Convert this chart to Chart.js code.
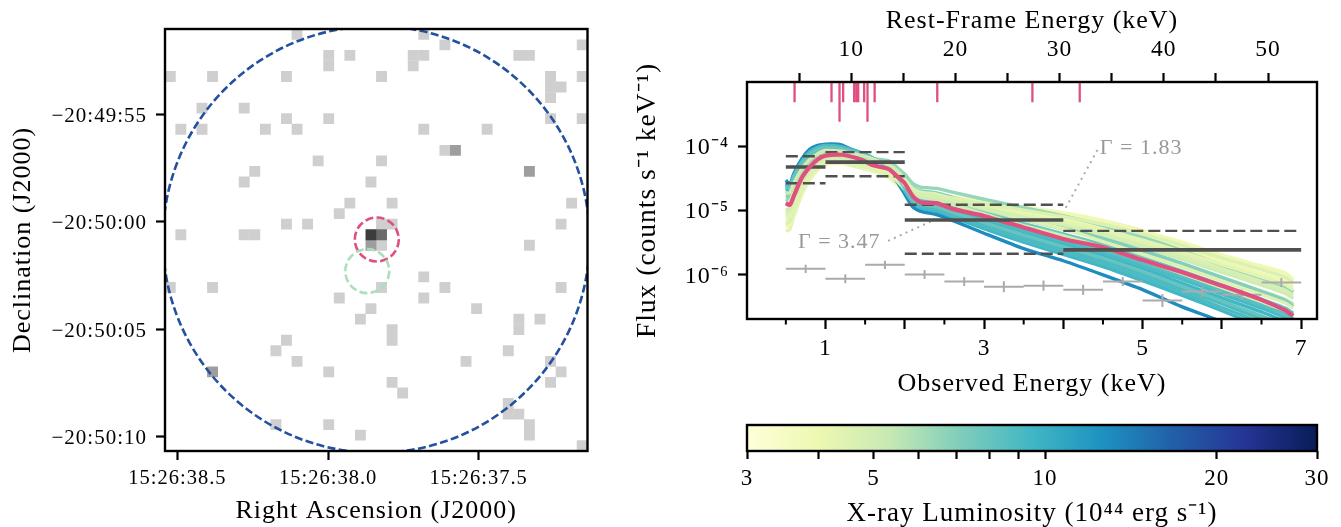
<!DOCTYPE html>
<html>
<head>
<meta charset="utf-8">
<style>
  body { margin: 0; background: #fff; width: 1341px; height: 527px; overflow: hidden; position: relative; }
  canvas { position: absolute; display: block; }
</style>
<script src="https://cdn.jsdelivr.net/npm/chart.js@4/dist/chart.umd.min.js"></script>
</head>
<body>
<canvas id="image" width="600" height="527" style="left:0;top:0"></canvas>
<canvas id="spectrum" width="741" height="400" style="left:600px;top:0"></canvas>
<canvas id="colorbar" width="741" height="130" style="left:600px;top:400px"></canvas>
<script>
// ---- left panel: counts image, cells are [column, row]
var cellsOne = [[12,0],[24,0],[26,1],[39,1],[15,2],[17,2],[23,2],[24,2],[33,2],[34,2],[15,3],[23,3],
  [0,4],[4,4],[11,4],[20,4],[36,4],[39,4],[36,5],[37,5],[36,6],[3,7],[7,7],[11,8],[15,8],[36,8],[39,8],
  [1,9],[3,9],[9,9],[12,9],[24,9],[30,9],[26,11],[14,12],[20,12],[8,13],[7,14],[19,14],[17,16],[21,16],[38,16],
  [16,17],[11,18],[13,18],[20,18],[21,18],[37,18],[1,19],[7,19],[8,19],[20,20],[34,20],
  [24,23],[0,24],[4,24],[20,24],[26,24],[37,24],[16,25],[24,25],[19,26],[29,26],[18,27],[33,27],[35,27],
  [21,28],[33,28],[11,29],[21,29],[10,30],[32,30],[12,31],[28,31],[36,31],[15,32],[37,32],[21,33],[36,33],
  [22,34],[32,35],[32,36],[33,36],[10,37],[15,37],[34,37],[18,38],[34,38],[39,39]];
var cellsTwo = [[27,11],[34,13],[19,20],[4,32]];
var cellsThree = [[20,19]];
var cellsFour = [[19,19]];
var cellGreys = ['#cfcfcf', '#9e9e9e', '#6b6b6b', '#3c3c3c'];

var regionCol = [20.0, 20.05, 19.15];
var regionRow = [19.95, 19.95, 22.95];
var regionRad = [20.2, 2.08, 2.08];
var regionColors = ['#23509f', '#e0507f', '#a9e0b8'];

var raTickPos = [1.18, 15.45, 29.7];
var raTickLabels = ['15:26:38.5', '15:26:38.0', '15:26:37.5'];
var decTickPos = [8.15, 18.29, 28.46, 38.64];
var decTickLabels = ['−20:49:55', '−20:50:00', '−20:50:05', '−20:50:10'];

// ---- right panel: spectrum, fluxes are log10(counts/s/keV)
var modelEnergy = [0.5,0.55,0.6,0.7,0.8,0.9,1,1.2,1.4,1.5,1.6,1.8,1.9,2,2.1,2.2,2.4,2.6,3,3.5,4,4.5,5,5.5,6,6.5,6.8,6.9];
var bestFit = [-4.89,-4.92,-4.78,-4.50,-4.33,-4.21,-4.15,-4.135,-4.19,-4.24,-4.30,-4.36,-4.47,-4.58,-4.78,-4.88,-4.89,-4.98,-5.09,-5.27,-5.45,-5.58,-5.78,-5.97,-6.18,-6.40,-6.565,-6.65];
var modelLum = [4.3, 8.5, 3.9, 9, 4.0, 9.5, 4.5, 9.5, 5.0, 7.8, 5.6, 13, 7.0, 6.5, 9, 4.6, 9, 4.3, 4.5, 8, 4.8, 5];
var model1 = [-5.33,-5.30,-5.10,-4.76,-4.53,-4.37,-4.28,-4.27,-4.33,-4.36,-4.39,-4.49,-4.59,-4.72,-4.76,-4.78,-4.78,-4.82,-4.90,-4.98,-5.06,-5.17,-5.32,-5.52,-5.72,-5.88,-5.99,-6.09];
var model2 = [-4.70,-4.71,-4.55,-4.34,-4.19,-4.10,-4.06,-4.07,-4.12,-4.15,-4.19,-4.31,-4.42,-4.60,-4.76,-4.82,-4.86,-4.94,-5.09,-5.28,-5.44,-5.62,-5.82,-6.03,-6.26,-6.48,-6.62,-6.70];
var model3 = [-5.26,-5.22,-5.03,-4.71,-4.49,-4.34,-4.26,-4.26,-4.31,-4.34,-4.37,-4.46,-4.56,-4.69,-4.74,-4.72,-4.74,-4.79,-4.87,-4.95,-5.04,-5.16,-5.33,-5.50,-5.70,-5.87,-5.98,-6.08];
var model4 = [-4.61,-4.65,-4.47,-4.26,-4.11,-4.04,-4.01,-4.03,-4.10,-4.13,-4.19,-4.36,-4.48,-4.68,-4.86,-4.92,-4.97,-5.05,-5.22,-5.43,-5.61,-5.79,-6.00,-6.23,-6.46,-6.70,-6.85,-6.92];
var model5 = [-5.18,-5.14,-4.96,-4.66,-4.45,-4.31,-4.24,-4.24,-4.29,-4.32,-4.35,-4.43,-4.52,-4.66,-4.72,-4.76,-4.78,-4.84,-4.93,-5.04,-5.14,-5.27,-5.42,-5.60,-5.80,-5.99,-6.11,-6.19];
var model6 = [-4.65,-4.68,-4.50,-4.30,-4.15,-4.07,-4.03,-4.05,-4.10,-4.14,-4.19,-4.33,-4.45,-4.65,-4.82,-4.88,-4.92,-5.00,-5.16,-5.36,-5.53,-5.71,-5.91,-6.14,-6.37,-6.59,-6.74,-6.82];
var model7 = [-5.09,-5.05,-4.89,-4.61,-4.41,-4.28,-4.21,-4.22,-4.27,-4.30,-4.33,-4.40,-4.49,-4.64,-4.74,-4.78,-4.80,-4.87,-4.98,-5.10,-5.21,-5.35,-5.52,-5.69,-5.90,-6.09,-6.21,-6.28];
var model8 = [-4.57,-4.62,-4.45,-4.23,-4.08,-4.01,-3.98,-4.00,-4.08,-4.13,-4.20,-4.38,-4.52,-4.71,-4.90,-4.97,-5.02,-5.11,-5.29,-5.50,-5.69,-5.88,-6.10,-6.33,-6.57,-6.82,-6.97,-7.05];
var model9 = [-5.00,-4.97,-4.82,-4.56,-4.37,-4.25,-4.19,-4.20,-4.25,-4.28,-4.30,-4.36,-4.44,-4.58,-4.70,-4.72,-4.76,-4.83,-4.96,-5.12,-5.25,-5.40,-5.58,-5.77,-5.97,-6.17,-6.30,-6.38];
var model10 = [-4.75,-4.74,-4.60,-4.38,-4.23,-4.13,-4.08,-4.09,-4.15,-4.18,-4.21,-4.30,-4.41,-4.56,-4.72,-4.78,-4.82,-4.89,-5.03,-5.21,-5.37,-5.54,-5.74,-5.95,-6.17,-6.39,-6.53,-6.61];
var model11 = [-4.93,-4.90,-4.76,-4.51,-4.33,-4.22,-4.16,-4.17,-4.22,-4.25,-4.27,-4.32,-4.40,-4.54,-4.68,-4.74,-4.78,-4.86,-4.99,-5.15,-5.30,-5.46,-5.64,-5.84,-6.05,-6.26,-6.39,-6.47];
var model12 = [-4.53,-4.60,-4.43,-4.20,-4.05,-3.99,-3.97,-3.98,-4.10,-4.15,-4.21,-4.40,-4.55,-4.75,-4.95,-5.02,-5.07,-5.16,-5.36,-5.60,-5.79,-6.01,-6.24,-6.51,-6.74,-7.00,-7.15,-7.20];
var model13 = [-4.80,-4.78,-4.65,-4.42,-4.26,-4.16,-4.11,-4.12,-4.16,-4.19,-4.22,-4.28,-4.37,-4.50,-4.64,-4.70,-4.73,-4.80,-4.94,-5.12,-5.27,-5.44,-5.63,-5.83,-6.05,-6.27,-6.41,-6.50];
var model14 = [-4.86,-4.83,-4.70,-4.46,-4.29,-4.18,-4.13,-4.14,-4.17,-4.20,-4.20,-4.23,-4.33,-4.44,-4.58,-4.64,-4.66,-4.72,-4.83,-4.96,-5.09,-5.24,-5.42,-5.63,-5.86,-6.06,-6.20,-6.28];
var model15 = [-4.59,-4.63,-4.46,-4.24,-4.09,-4.02,-3.99,-4.01,-4.09,-4.13,-4.19,-4.37,-4.50,-4.70,-4.88,-4.95,-5.00,-5.08,-5.25,-5.47,-5.65,-5.84,-6.05,-6.28,-6.52,-6.76,-6.91,-6.99];
var model16 = [-5.22,-5.18,-5.00,-4.69,-4.47,-4.33,-4.25,-4.25,-4.30,-4.33,-4.36,-4.45,-4.54,-4.67,-4.73,-4.74,-4.76,-4.81,-4.90,-5.00,-5.10,-5.22,-5.37,-5.55,-5.75,-5.93,-6.05,-6.13];
var model17 = [-4.67,-4.69,-4.52,-4.32,-4.17,-4.08,-4.05,-4.06,-4.11,-4.14,-4.19,-4.32,-4.44,-4.62,-4.79,-4.85,-4.89,-4.97,-5.12,-5.32,-5.49,-5.67,-5.87,-6.08,-6.31,-6.53,-6.68,-6.76];
var model18 = [-5.13,-5.10,-4.92,-4.63,-4.43,-4.30,-4.23,-4.23,-4.28,-4.31,-4.34,-4.42,-4.50,-4.65,-4.73,-4.77,-4.79,-4.85,-4.95,-5.07,-5.18,-5.31,-5.47,-5.65,-5.85,-6.04,-6.16,-6.24];
var model19 = [-4.90,-4.87,-4.73,-4.48,-4.31,-4.20,-4.14,-4.15,-4.20,-4.23,-4.25,-4.30,-4.38,-4.52,-4.66,-4.72,-4.75,-4.83,-4.97,-5.14,-5.29,-5.49,-5.69,-5.89,-6.11,-6.32,-6.45,-6.53];
var model20 = [-4.63,-4.66,-4.48,-4.28,-4.13,-4.05,-4.02,-4.04,-4.10,-4.13,-4.19,-4.34,-4.46,-4.66,-4.84,-4.90,-4.95,-5.03,-5.19,-5.39,-5.57,-5.75,-5.96,-6.19,-6.42,-6.65,-6.79,-6.87];
var model21 = [-5.04,-5.01,-4.85,-4.58,-4.39,-4.26,-4.20,-4.21,-4.26,-4.29,-4.31,-4.38,-4.46,-4.61,-4.72,-4.75,-4.78,-4.85,-4.97,-5.11,-5.23,-5.38,-5.55,-5.73,-5.93,-6.13,-6.25,-6.33];
var model22 = [-4.73,-4.73,-4.58,-4.36,-4.21,-4.12,-4.07,-4.08,-4.13,-4.16,-4.20,-4.30,-4.41,-4.58,-4.74,-4.80,-4.84,-4.91,-5.06,-5.24,-5.40,-5.58,-5.78,-5.99,-6.21,-6.43,-6.57,-6.65];
var models = [model1,model2,model3,model4,model5,model6,model7,model8,model9,model10,model11,model12,model13,model14,
  model15,model16,model17,model18,model19,model20,model21,model22];

var binLow = [0.5, 1, 2, 4];
var binHigh = [1, 2, 4, 7];
var binFlux = [-4.327, -4.25, -5.153, -5.62];
var binUpper = [-4.16, -4.095, -4.915, -5.324];
var binLower = [-4.58, -4.47, -5.68, null];

var bgEnergy = [0.75,1.25,1.75,2.25,2.75,3.25,3.75,4.25,4.75,5.25,5.75,6.25,6.75];
var bgFlux = [-5.916,-6.07,-5.854,-6.004,-6.113,-6.196,-6.18,-6.243,-6.113,-6.41,-6.27,-6.32,-6.13];
var bgFluxErr = [0.065,0.07,0.065,0.07,0.07,0.085,0.08,0.08,0.07,0.1,0.08,0.08,0.07];

var rugEnergy = [0.61,1.076,1.177,1.223,1.362,1.392,1.413,1.488,1.53,1.62,2.41,3.61,4.207];
var rugEnd = [-3.315,-3.315,-3.62,-3.315,-3.315,-3.315,-3.315,-3.315,-3.62,-3.315,-3.315,-3.315,-3.315];

var noteText = ['Γ = 1.83', 'Γ = 3.47'];
var noteEnergy = [4.46, 0.653];
var noteFlux = [-4.03, -5.495];
var pointerEnergy = [[4.43, 3.997], [1.79, 2.34]];
var pointerFlux = [[-4.06, -5.04], [-5.48, -5.17]];

var obsTicks = [1, 2, 3, 4, 5, 6, 7];
var obsMinorTicks = [0.5, 1.5, 2.5, 3.5, 4.5, 5.5, 6.5];
var restTicks = [5, 10, 15, 20, 25, 30, 35, 40, 45, 50];
var fluxTicks = [-6, -5, -4];
var fluxTickLabels = ['10⁻⁶', '10⁻⁵', '10⁻⁴'];

// ---- colour bar
var lumTicks = [3, 4, 5, 6, 7, 8, 9, 10, 20, 30];
var lumLabelled = [3, 5, 10, 20, 30];
var ylGnBu = ['#ffffd9', '#edf8b1', '#c7e9b4', '#7fcdbb', '#41b6c4', '#1d91c0', '#225ea8', '#253494', '#081d58'];

var SERIF = '"Liberation Serif", serif';
var PINK = '#e0507f';
var DARK = '#505050';
Chart.defaults.font.family = SERIF;
Chart.defaults.color = '#000';
Chart.defaults.animation = false;
Chart.defaults.events = [];
Chart.defaults.plugins.legend.display = false;
Chart.defaults.plugins.tooltip.enabled = false;

function lumColor(l) {
  var t = Math.log(l / 3) / Math.log(10) * 8;
  var i = Math.min(7, Math.floor(t));
  var f = t - i;
  var a = parseInt(ylGnBu[i].slice(1), 16), b = parseInt(ylGnBu[i + 1].slice(1), 16);
  var mix = function (s) { return Math.round((a >> s & 255) * (1 - f) + (b >> s & 255) * f); };
  return 'rgb(' + mix(16) + ',' + mix(8) + ',' + mix(0) + ')';
}
function pow(v) { return Math.pow(10, v); }
function fixedTicks(values) {
  return function (axis) { axis.ticks = values.map(function (v) { return { value: v }; }); };
}
function fitHeight(h) { return function (s) { s.height = h; }; }
function fitWidth(w) { return function (s) { s.width = w; }; }
function gridOpts(len) {
  return { drawOnChartArea: false, tickLength: len, tickWidth: 2.2, tickColor: '#000' };
}
function titleOpts(text, pad, size) {
  return { display: true, text: text, padding: { top: pad, bottom: 0 }, font: { size: size || 26 } };
}

// black box round the axes, and a bit of tracking since the serif runs narrower than the original
var framePlugin = {
  id: 'frame',
  beforeDraw: function (chart) { chart.ctx.letterSpacing = '1px'; },
  afterDraw: function (chart) {
    var a = chart.chartArea, ctx = chart.ctx;
    ctx.save();
    ctx.lineWidth = 2.4;
    ctx.strokeStyle = '#000';
    ctx.strokeRect(a.left, a.top, a.right - a.left, a.bottom - a.top);
    ctx.restore();
  }
};

// ---- left panel
function cellData(list) {
  return list.map(function (c) { return { x: c[0] + 0.5, y: c[1] + 0.5 }; });
}
function cellRadius(ctx) { return ctx.chart.scales.x.width / 40 * Math.SQRT2 / 2 * 1.03; }
var imageSets = [cellsOne, cellsTwo, cellsThree, cellsFour].map(function (list, i) {
  return { data: cellData(list), pointStyle: 'rect', pointRadius: cellRadius,
    backgroundColor: cellGreys[i], borderWidth: 0, pointBorderWidth: 0 };
});
regionCol.forEach(function (c, i) {
  imageSets.push({
    data: [{ x: c, y: regionRow[i] }], circleDash: [8, 3.4], pointStyle: 'circle',
    pointRadius: function (ctx) { return regionRad[i] * ctx.chart.scales.x.width / 40; },
    pointBorderColor: regionColors[i], pointBorderWidth: 2.6, pointBackgroundColor: 'rgba(0,0,0,0)'
  });
});
var dashPlugin = {
  id: 'circleDash',
  beforeDatasetDraw: function (chart, args) {
    var ds = chart.data.datasets[args.index];
    chart.ctx.setLineDash(ds.circleDash || []);
  },
  afterDatasetDraw: function (chart) { chart.ctx.setLineDash([]); }
};
new Chart(document.getElementById('image'), {
  type: 'scatter',
  data: { datasets: imageSets.reverse() },
  plugins: [framePlugin, dashPlugin],
  options: {
    responsive: false,
    layout: { padding: { top: 29, right: 12.5, left: 0, bottom: 0 } },
    scales: {
      x: {
        type: 'linear', min: 0, max: 40, border: { display: false }, grid: gridOpts(9),
        afterBuildTicks: fixedTicks(raTickPos), afterFit: fitHeight(76),
        title: titleOpts('Right Ascension (J2000)', 0.4),
        ticks: { maxRotation: 0, autoSkip: false, padding: 6, font: { size: 20.5 },
          callback: function (v, i) { return raTickLabels[i]; } }
      },
      y: {
        type: 'linear', min: 0, max: 40, reverse: true, border: { display: false }, grid: gridOpts(9),
        afterBuildTicks: fixedTicks(decTickPos), afterFit: fitWidth(165),
        title: titleOpts('Declination (J2000)', 7.4),
        ticks: { autoSkip: false, padding: 9, labelOffset: 2, font: { size: 21 },
          callback: function (v, i) { return decTickLabels[i]; } }
      }
    }
  }
});

// ---- right panel
function curve(vals) {
  return modelEnergy.map(function (e, i) { return { x: e, y: pow(vals[i]) }; });
}
function lineSet(data, color, width, dash) {
  return { data: data, showLine: true, pointRadius: 0, borderColor: color, borderWidth: width,
    borderDash: dash || [], backgroundColor: color, borderCapStyle: 'butt' };
}
function binSegments(levels, from, to) {
  var out = [];
  levels.slice(from, to).forEach(function (v, k) {
    var i = (from || 0) + k;
    if (v === null) return;
    out.push({ x: binLow[i], y: pow(v) }, { x: binHigh[i], y: pow(v) }, { x: NaN, y: NaN });
  });
  return out;
}
var crossData = [];
bgEnergy.forEach(function (e, i) {
  crossData.push({ x: e - 0.25, y: pow(bgFlux[i]) }, { x: e + 0.25, y: pow(bgFlux[i]) }, { x: NaN, y: NaN });
  crossData.push({ x: e, y: pow(bgFlux[i] - bgFluxErr[i]) }, { x: e, y: pow(bgFlux[i] + bgFluxErr[i]) }, { x: NaN, y: NaN });
});
var rugData = [];
rugEnergy.forEach(function (e, i) {
  rugData.push({ x: e, y: 1e-3 }, { x: e, y: pow(rugEnd[i]) }, { x: NaN, y: NaN });
});

// listed in paint order, reversed below because Chart.js paints the first dataset last
var specSets = [];
pointerEnergy.forEach(function (es, k) {
  specSets.push(lineSet(es.map(function (e, i) { return { x: e, y: pow(pointerFlux[k][i]) }; }), '#aaaaaa', 2, [2, 4.4]));
});
models.forEach(function (m, i) {
  var s = lineSet(curve(m), lumColor(modelLum[i]), 3.4);
  s.tension = 0.2;
  specSets.push(s);
});
specSets.push(lineSet(crossData, '#ababab', 2));
specSets.push(lineSet(binSegments(binUpper), DARK, 2.4, [12, 5]));
specSets.push(lineSet(binSegments(binLower), DARK, 2.4, [12, 5]));
specSets.push(lineSet(binSegments(binFlux, 0, 1), DARK, 3.6));
var fitSet = lineSet(curve(bestFit), PINK, 4.2);
fitSet.tension = 0.2;
specSets.push(fitSet);
specSets.push(lineSet(binSegments(binFlux, 1), DARK, 3.6));
specSets.push(lineSet(rugData, PINK, 2.3));

var specPlugin = {
  id: 'specExtras',
  afterDatasetsDraw: function (chart) {
    var ctx = chart.ctx, x = chart.scales.x, y = chart.scales.y;
    ctx.save();
    ctx.strokeStyle = '#000';
    ctx.lineWidth = 2;
    ctx.beginPath();
    obsMinorTicks.forEach(function (t) {
      var px = x.getPixelForValue(t);
      ctx.moveTo(px, y.bottom);
      ctx.lineTo(px, y.bottom + 5.5);
    });
    ctx.stroke();
    ctx.fillStyle = '#999999';
    ctx.font = '22px ' + SERIF;
    ctx.textBaseline = 'middle';
    noteText.forEach(function (t, i) {
      ctx.fillText(t, x.getPixelForValue(noteEnergy[i]), y.getPixelForValue(pow(noteFlux[i])));
    });
    ctx.restore();
  }
};
new Chart(document.getElementById('spectrum'), {
  type: 'scatter',
  data: { datasets: specSets.reverse() },
  plugins: [framePlugin, specPlugin],
  options: {
    responsive: false,
    layout: { padding: { top: 0, right: 24, left: 0, bottom: 0 } },
    scales: {
      x: {
        type: 'linear', min: 0.01, max: 7.2, border: { display: false }, grid: gridOpts(10),
        afterBuildTicks: fixedTicks(obsTicks), afterFit: fitHeight(81),
        title: titleOpts('Observed Energy (keV)', 0.4),
        ticks: { maxRotation: 0, autoSkip: false, padding: 6, font: { size: 23.5 },
          callback: function (v) { return v % 2 === 1 ? String(v) : ''; } }
      },
      x2: {
        type: 'linear', position: 'top', min: 0, max: 54.7, border: { display: false }, grid: gridOpts(9),
        afterBuildTicks: fixedTicks(restTicks), afterFit: fitHeight(82),
        title: titleOpts('Rest-Frame Energy (keV)', 5.4),
        ticks: { maxRotation: 0, autoSkip: false, padding: 9, font: { size: 23.5 },
          callback: function (v) { return v % 10 === 0 ? String(v) : ''; } }
      },
      y: {
        type: 'logarithmic', min: 2e-7, max: 1e-3, border: { display: false }, grid: gridOpts(9),
        afterBuildTicks: fixedTicks(fluxTicks.map(pow)), afterFit: fitWidth(147),
        title: titleOpts('Flux (counts s⁻¹ keV⁻¹)', 31.5, 27.5),
        ticks: { autoSkip: false, padding: 9, labelOffset: 2, font: { size: 24 },
          callback: function (v, i) { return fluxTickLabels[i]; } }
      }
    }
  }
});

// ---- colour bar
new Chart(document.getElementById('colorbar'), {
  type: 'bar',
  data: {
    labels: ['L'],
    datasets: [{
      data: [[3, 30]], barPercentage: 1, categoryPercentage: 1, borderWidth: 0,
      backgroundColor: function (ctx) {
        var a = ctx.chart.chartArea;
        if (!a) return ylGnBu[0];
        var g = ctx.chart.ctx.createLinearGradient(a.left, 0, a.right, 0);
        ylGnBu.forEach(function (c, i) { g.addColorStop(i / 8, c); });
        return g;
      }
    }]
  },
  plugins: [framePlugin],
  options: {
    indexAxis: 'y',
    responsive: false,
    layout: { padding: { top: 25, right: 24, left: 147, bottom: 0 } },
    scales: {
      y: { display: false },
      x: {
        type: 'logarithmic', min: 3, max: 30, border: { display: false }, grid: gridOpts(8),
        afterBuildTicks: fixedTicks(lumTicks), afterFit: fitHeight(79),
        title: titleOpts('X-ray Luminosity (10⁴⁴ erg s⁻¹)', 0, 27),
        ticks: { maxRotation: 0, autoSkip: false, padding: 6, font: { size: 23 },
          callback: function (v) { return lumLabelled.indexOf(v) >= 0 ? String(v) : ''; } }
      }
    }
  }
});
</script>
</body>
</html>
